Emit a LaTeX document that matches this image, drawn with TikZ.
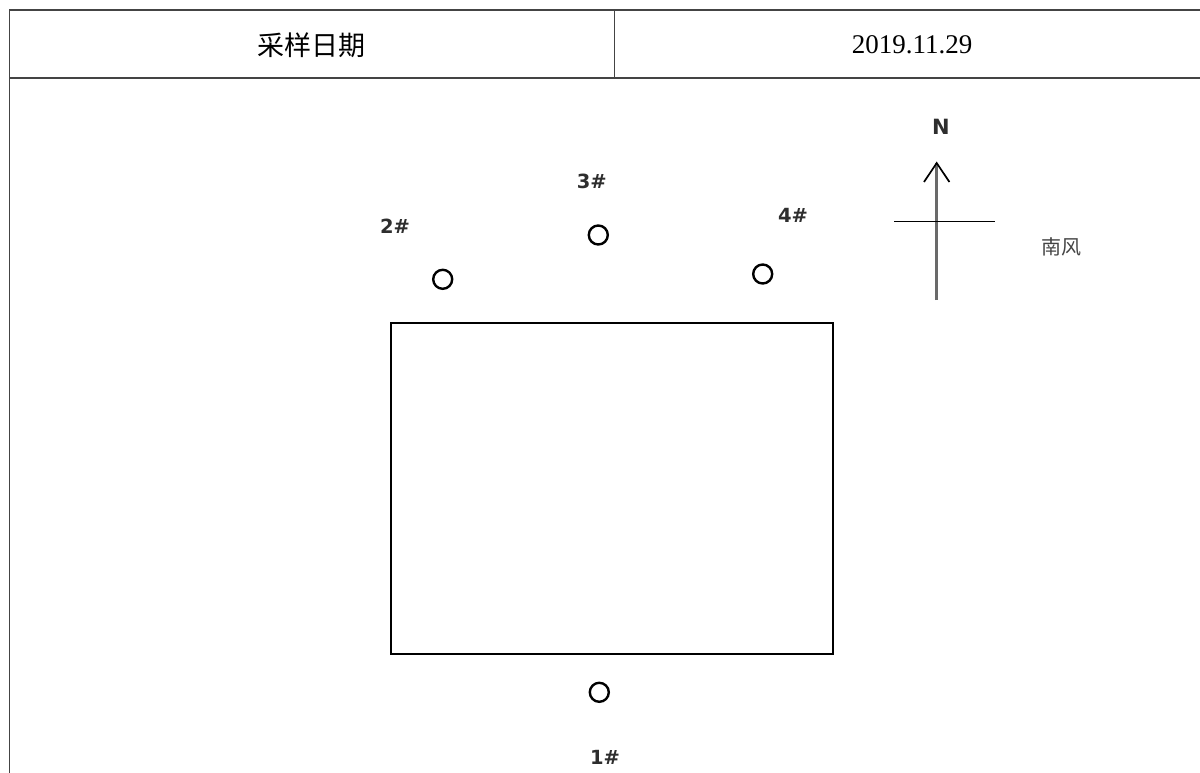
\documentclass[tikz,border=0pt]{standalone}
\usepackage{fontspec}
\setmainfont{Liberation Serif}
\newfontfamily\cjk{Noto Sans CJK SC}
\newfontfamily\lblfont{DejaVu Sans}
\definecolor{tline}{HTML}{444444}
\definecolor{shaft}{HTML}{6A6A6A}
\definecolor{windtxt}{HTML}{444444}
\begin{document}
\begin{tikzpicture}[x=1pt,y=-1pt,
  tableline/.style={draw=tline,line width=1.6pt},
  hdr/.style={inner sep=0pt,font=\fontsize{27}{30}\selectfont},
  site/.style={draw=black,line width=2.4pt,circle,minimum size=19pt,inner sep=0pt},
  lbl/.style={inner sep=0pt,font=\lblfont\bfseries\fontsize{19.5}{22}\selectfont,text=black!82},
  bldg/.style={draw=black,line width=2.2pt,inner sep=0pt,minimum width=442pt,minimum height=331.6pt}]
\useasboundingbox (0,0) rectangle (1200,773);
% table
\draw[tableline] (9.3,773) -- (9.3,10) -- (1200,10);
\draw[tableline] (9.3,78.3) -- (1200,78.3);
\draw[tableline] (614.3,10) -- (614.3,78.3);
\node[hdr] (h1) at (311.8,45) {\cjk 采样日期};
\node[hdr] (h2) at (912,45) {2019.11.29};
% building
\node[bldg] (b) at (611.7,488.5) {};
% sampling points
\node[site] (p1) at (599.3,692.3) {};
\node[site] (p2) at (442.7,279.3) {};
\node[site] (p3) at (598.3,235) {};
\node[site] (p4) at (762.7,274) {};
\node[lbl] (l1) at (605,757) {1\#};
\node[lbl] (l2) at (395,226.7) {2\#};
\node[lbl] (l3) at (591.7,181.7) {3\#};
\node[lbl] (l4) at (793,215) {4\#};
% compass
\coordinate (cb) at (936.7,300);
\coordinate (ct) at (936.7,163);
\coordinate (hl) at (894,221.7);
\coordinate (hr) at (995,221.7);
\draw[shaft,line width=2.6pt] (cb) -- (ct);
\draw[black,line width=1.7pt,line join=miter] (924,182) -- (ct) -- (949.4,182);
\draw[black,line width=1.4pt] (hl) -- (hr);
\node[lbl,font=\lblfont\bfseries\fontsize{21}{23}\selectfont] (n) at (941,126.7) {N};
\node[inner sep=0pt,font=\cjk\fontsize{20}{22}\selectfont,text=windtxt] (w) at (1061.7,246.7) {南风};
\end{tikzpicture}
\end{document}
